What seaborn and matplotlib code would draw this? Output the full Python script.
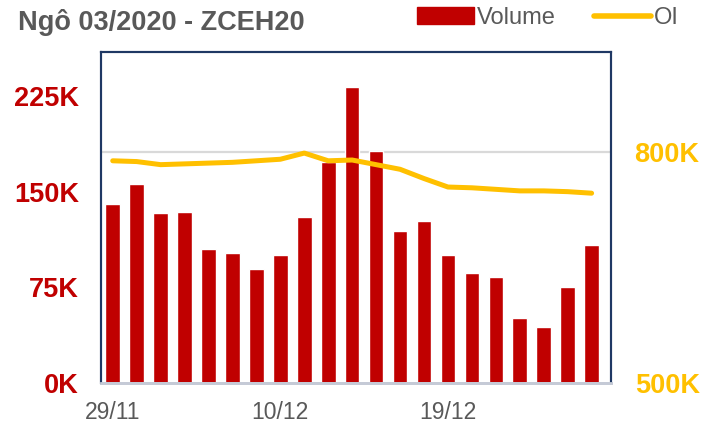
import numpy as np
import pandas as pd
import matplotlib.pyplot as plt
import seaborn as sns
from matplotlib.patches import Patch
from matplotlib.lines import Line2D
from matplotlib.transforms import blended_transform_factory

# trading days, 29/11/2019 -> 30/12/2019
dates = ["29/11", "02/12", "03/12", "04/12", "05/12", "06/12", "09/12",
         "10/12", "11/12", "12/12", "13/12", "16/12", "17/12", "18/12",
         "19/12", "20/12", "23/12", "24/12", "26/12", "27/12", "30/12"]
# volume, thousands of contracts
volume_k = [140, 156, 133, 134, 105, 102, 89, 100, 130, 173, 232,
            182, 119, 127, 100, 86, 83, 51, 44, 75, 108]
# open interest, thousands
oi_k = [788, 787, 783, 784, 785, 786, 788, 790, 798, 788, 789,
        783, 777, 765, 754, 753, 751, 749, 749, 748, 746]
tick_dates = ["29/11", "10/12", "19/12"]
vol_ticks = [0, 75, 150, 225]
oi_ticks = [500, 800]

RED = "#C00000"
GOLD = "#FFC000"
GREY = "#595959"
NAVY = "#1F3864"

sns.set_style("white")
plt.rcParams['font.family'] = ['Liberation Sans', 'DejaVu Sans']

df = pd.DataFrame({"date": dates, "volume": volume_k, "oi": oi_k})
df["pos"] = np.arange(len(df))

fig = plt.figure(figsize=(7.15, 4.24), dpi=100)
ax = fig.add_axes([101 / 715, 41 / 424, 510 / 715, 331 / 424])

sns.barplot(data=df, x="date", y="volume", order=dates, color=RED,
            saturation=1, width=0.61, ax=ax, zorder=2)

ax2 = ax.twinx()
sns.lineplot(data=df, x="pos", y="oi", color=GOLD, lw=3.6, ax=ax2,
             solid_capstyle="round", zorder=3)

ax.set_xlim(-0.49, 20.81)
ax.set_ylim(0, 259.4)
ax2.set_ylim(500, 929)

ax.set_yticks(vol_ticks)
ax.set_yticklabels([f"{v}K" for v in vol_ticks], color=RED,
                   fontsize=19.5, fontweight="bold")
ax2.set_yticks(oi_ticks)
ax2.set_yticklabels([f"{v}K" for v in oi_ticks], color=GOLD,
                    fontsize=19.5, fontweight="bold")
ax.set_xticks([dates.index(d) for d in tick_dates])
ax.set_xticklabels(tick_dates, color=GREY, fontsize=16.5)
ax.tick_params(axis="y", length=0, pad=16)
ax2.tick_params(axis="y", length=0, pad=17)
ax.tick_params(axis="x", length=0, pad=13)
ax.set_xlabel("")
ax.set_ylabel("")
ax2.set_ylabel("")
ax2.set_xlabel("")

# horizontal gridline at 800K (right axis), behind the bars
tr = blended_transform_factory(ax.transAxes, ax2.transData)
ax.plot([0, 1], [oi_ticks[1]] * 2, transform=tr, color="#D9D9D9",
        lw=1.6, zorder=1)

for a in (ax, ax2):
    for side in ("left", "right", "top"):
        a.spines[side].set_color(NAVY)
        a.spines[side].set_linewidth(1.5)
    a.spines["bottom"].set_color("#C5CAD6")
    a.spines["bottom"].set_linewidth(2)

fig.text(18 / 715, 1 - 23 / 424, "Ngô 03/2020 - ZCEH20", color=GREY,
         fontsize=19.5, fontweight="bold", ha="left", va="center")

handles = [Patch(color=RED), Line2D([], [], color=GOLD, lw=4)]
fig.legend(handles, ["Volume", "OI"], ncol=2, frameon=False,
           loc="center left", bbox_to_anchor=(417 / 715, 1 - 18 / 424),
           borderpad=0, borderaxespad=0, handlelength=2.4,
           handletextpad=0.15, columnspacing=1.6, fontsize=17,
           labelcolor=GREY)

fig.savefig("out.png", dpi=100)
